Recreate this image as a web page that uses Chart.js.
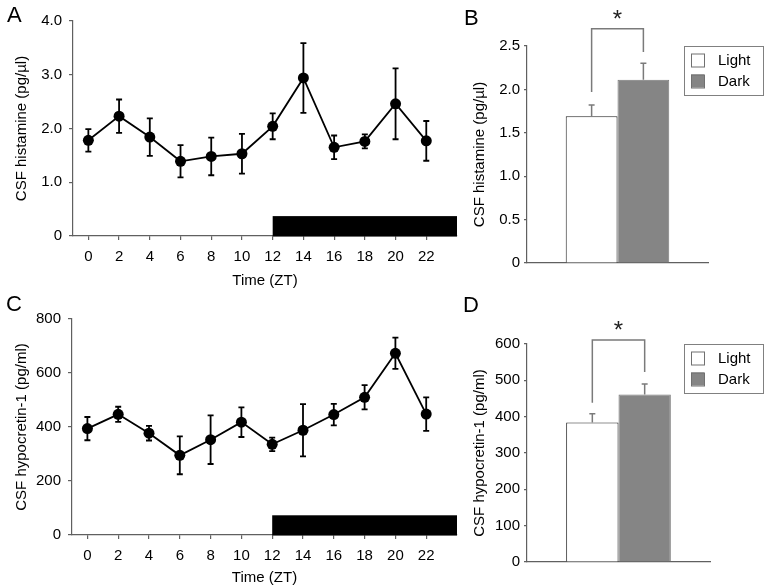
<!DOCTYPE html>
<html><head><meta charset="utf-8">
<script src="https://cdn.jsdelivr.net/npm/chart.js@4"></script>
<style>
html,body{margin:0;padding:0;background:#fff}
body{width:769px;height:587px;position:relative;overflow:hidden;font-family:"Liberation Sans",Arial,sans-serif}
.p{position:absolute}
.lbl{position:absolute;font-size:22px;line-height:22px;color:#000;font-family:"Liberation Sans",Arial,sans-serif}
</style></head><body>
<div class="p" style="left:0;top:0"><canvas id="cA" width="470" height="290"></canvas></div>
<div class="p" style="left:460px;top:0"><canvas id="cB" width="309" height="290"></canvas></div>
<div class="p" style="left:0;top:300px"><canvas id="cC" width="470" height="287"></canvas></div>
<div class="p" style="left:460px;top:300px"><canvas id="cD" width="309" height="287"></canvas></div>
<div class="lbl" style="left:7px;top:4px">A</div>
<div class="lbl" style="left:464px;top:7px">B</div>
<div class="lbl" style="left:6px;top:293px">C</div>
<div class="lbl" style="left:463px;top:294px">D</div>
<script>
// ---- data ----
const ztLabels = [0, 2, 4, 6, 8, 10, 12, 14, 16, 18, 20, 22];
const histMean = [1.78, 2.23, 1.84, 1.39, 1.48, 1.53, 2.04, 2.94, 1.65, 1.76, 2.46, 1.77];
const histErr  = [0.21, 0.31, 0.35, 0.30, 0.35, 0.37, 0.24, 0.65, 0.22, 0.13, 0.66, 0.37];
const hcrtMean = [394, 447, 377, 295, 353, 418, 336, 388, 446, 510, 673, 448];
const hcrtErr  = [43, 28, 27, 70, 90, 55, 25, 97, 40, 45, 58, 62];
const phaseNames = ['Light', 'Dark'];
const histPhaseMean = [1.69, 2.11];
const histPhaseErr  = [0.13, 0.19];
const hcrtPhaseMean = [384, 461];
const hcrtPhaseErr  = [24, 29];
const darkPhase = [12, 24];
const histTicks = [0, 1, 2, 3, 4];
const hcrtTicks = [0, 200, 400, 600, 800];
const histBarTicks = [0, 0.5, 1.0, 1.5, 2.0, 2.5];
const hcrtBarTicks = [0, 100, 200, 300, 400, 500, 600];

const FONT = {family: '"Liberation Sans", Arial, sans-serif', size: 15};
const AXIS = '#606060';
const DARK_FILL = '#858585';

// ---- plugins ----
const lineErrPlugin = {
  id: 'lineErr',
  afterDatasetsDraw(chart) {
    const ctx = chart.ctx, ys = chart.scales.y;
    chart.data.datasets.forEach((ds, di) => {
      const meta = chart.getDatasetMeta(di);
      ctx.save();
      ctx.strokeStyle = '#000'; ctx.lineWidth = 1.8;
      meta.data.forEach((pt, i) => {
        const v = ds.data[i].y, e = ds.err[i];
        const y1 = ys.getPixelForValue(v + e), y2 = ys.getPixelForValue(v - e);
        ctx.beginPath();
        ctx.moveTo(pt.x, y1); ctx.lineTo(pt.x, y2);
        ctx.moveTo(pt.x - 3, y1); ctx.lineTo(pt.x + 3, y1);
        ctx.moveTo(pt.x - 3, y2); ctx.lineTo(pt.x + 3, y2);
        ctx.stroke();
      });
      ctx.restore();
    });
  }
};
const darkBarPlugin = {
  id: 'darkBar',
  beforeDatasetsDraw(chart, args, opts) {
    const ctx = chart.ctx, xs = chart.scales.x, ys = chart.scales.y;
    const x1 = xs.getPixelForValue(darkPhase[0]), x2 = xs.getPixelForValue(darkPhase[1]);
    const yT = ys.getPixelForValue(opts.height), yB = ys.getPixelForValue(0);
    ctx.save(); ctx.fillStyle = '#000';
    ctx.fillRect(x1, yT, x2 - x1, yB - yT + 0.5);
    ctx.restore();
  }
};
const barExtrasPlugin = {
  id: 'barExtras',
  afterDatasetsDraw(chart, args, opts) {
    const ctx = chart.ctx, ys = chart.scales.y, ca = chart.chartArea;
    const xs = [];
    ctx.save();
    ctx.strokeStyle = '#7a7a7a'; ctx.lineWidth = 1.5;
    chart.data.datasets.forEach((ds, di) => {
      const bar = chart.getDatasetMeta(di).data[0];
      xs.push(bar.x);
      const yTop = ys.getPixelForValue(ds.data[0] + ds.err[0]);
      ctx.beginPath();
      ctx.moveTo(bar.x, bar.y); ctx.lineTo(bar.x, yTop);
      ctx.moveTo(bar.x - 3, yTop); ctx.lineTo(bar.x + 3, yTop);
      ctx.stroke();
    });
    // significance bracket
    const b = opts.bracket;
    const yl = ys.getPixelForValue(b[0]), yt = ys.getPixelForValue(b[1]), yr = ys.getPixelForValue(b[2]);
    ctx.beginPath();
    ctx.moveTo(xs[0], yl); ctx.lineTo(xs[0], yt); ctx.lineTo(xs[1], yt); ctx.lineTo(xs[1], yr);
    ctx.stroke();
    ctx.fillStyle = '#222';
    ctx.font = '24px "Liberation Sans", Arial, sans-serif';
    ctx.textAlign = 'center'; ctx.textBaseline = 'alphabetic';
    ctx.fillText('*', (xs[0] + xs[1]) / 2, yt - 2);
    // legend
    const lx = ca.left + 157, ly = ca.top, lw = 79, lh = 49;
    ctx.strokeStyle = '#808080'; ctx.lineWidth = 1;
    ctx.strokeRect(lx + 0.5, ly + 0.5, lw, lh);
    ctx.font = '15px "Liberation Sans", Arial, sans-serif';
    ctx.textAlign = 'left'; ctx.textBaseline = 'middle';
    chart.data.datasets.forEach((ds, di) => {
      const cy = ly + 14 + di * 21;
      ctx.fillStyle = ds.backgroundColor;
      ctx.fillRect(lx + 7, cy - 6.5, 13, 13);
      ctx.strokeStyle = '#707070';
      ctx.strokeRect(lx + 7.5, cy - 6, 13, 13);
      ctx.fillStyle = '#000';
      ctx.fillText(ds.label, lx + 34, cy + 1);
    });
    ctx.restore();
  }
};

function gridOpts(len) {
  return {display: true, drawOnChartArea: false, tickLength: len, color: AXIS, lineWidth: 1.2};
}

function lineChart(id, mean, err, yMax, yTicks, fmt, yTitle, g) {
  return new Chart(document.getElementById(id), {
    type: 'line',
    data: {datasets: [{
      data: ztLabels.map((x, i) => ({x: x, y: mean[i]})), err: err,
      borderColor: '#000', borderWidth: 1.8, backgroundColor: '#000',
      pointRadius: 5.5, pointBackgroundColor: '#000', pointBorderColor: '#000', pointBorderWidth: 0,
      tension: 0, clip: false
    }]},
    options: {
      responsive: false, animation: false, events: [],
      layout: {padding: {left: 0, right: g.right, top: g.top, bottom: 0}},
      plugins: {legend: {display: false}, tooltip: {enabled: false}, darkBar: {height: g.barH}},
      scales: {
        x: {type: 'linear', min: -1, max: 24,
          afterBuildTicks: s => { s.ticks = ztLabels.map(v => ({value: v})); },
          afterFit: s => { s.height = g.xh; },
          ticks: {color: '#000', font: FONT, padding: 8, maxRotation: 0, autoSkip: false},
          grid: gridOpts(4), border: {color: AXIS, width: 1.2},
          title: {display: true, text: 'Time (ZT)', color: '#000', font: FONT, padding: {top: 0, bottom: 0}}
        },
        y: {min: 0, max: yMax,
          afterBuildTicks: s => { s.ticks = yTicks.map(v => ({value: v})); },
          afterFit: s => { s.width = g.yw; },
          ticks: {color: '#000', font: FONT, padding: 7, callback: fmt},
          grid: gridOpts(4), border: {color: AXIS, width: 1.2},
          title: {display: true, text: yTitle, color: '#000', font: FONT, padding: {top: g.tp, bottom: 0}}
        }
      }
    },
    plugins: [darkBarPlugin, lineErrPlugin]
  });
}

function barChart(id, mean, err, yMax, yTicks, fmt, yTitle, bracket, g) {
  return new Chart(document.getElementById(id), {
    type: 'bar',
    data: {labels: [''], datasets: [
      {label: phaseNames[0], data: [mean[0]], err: [err[0]], backgroundColor: '#ffffff', borderColor: '#222', borderWidth: 1},
      {label: phaseNames[1], data: [mean[1]], err: [err[1]], backgroundColor: DARK_FILL, borderColor: '#7a7a7a', borderWidth: 1}
    ]},
    options: {
      responsive: false, animation: false, events: [],
      layout: {padding: {left: 0, right: g.right, top: g.top, bottom: 0}},
      datasets: {bar: {categoryPercentage: 0.572, barPercentage: 1}},
      plugins: {legend: {display: false}, tooltip: {enabled: false}, barExtras: {bracket: bracket}},
      scales: {
        x: {afterFit: s => { s.height = g.xh; }, ticks: {display: false},
          grid: {display: false}, border: {color: AXIS, width: 1.2}},
        y: {min: 0, max: yMax,
          afterBuildTicks: s => { s.ticks = yTicks.map(v => ({value: v})); },
          afterFit: s => { s.width = g.yw; },
          ticks: {color: '#000', font: FONT, padding: 4, callback: fmt},
          grid: gridOpts(3), border: {color: AXIS, width: 1.2},
          title: {display: true, text: yTitle, color: '#000', font: FONT, padding: {top: g.tp, bottom: 0}}
        }
      }
    },
    plugins: [barExtrasPlugin]
  });
}

const fmt1 = v => v === 0 ? '0' : v.toFixed(1);
const fmt0 = v => String(v);

lineChart('cA', histMean, histErr, 4, histTicks, fmt1, 'CSF histamine (pg/µl)',
  {right: 13, top: 21, xh: 54, yw: 73, tp: 13, barH: 0.37});
lineChart('cC', hcrtMean, hcrtErr, 800, hcrtTicks, fmt0, 'CSF hypocretin-1 (pg/ml)',
  {right: 13, top: 19, xh: 52, yw: 72, tp: 13, barH: 73});
barChart('cB', histPhaseMean, histPhaseErr, 2.5, histBarTicks, fmt1, 'CSF histamine (pg/µl)',
  [1.97, 2.70, 2.43], {right: 61, top: 46, xh: 27, yw: 67, tp: 11});
barChart('cD', hcrtPhaseMean, hcrtPhaseErr, 600, hcrtBarTicks, fmt0, 'CSF hypocretin-1 (pg/ml)',
  [438, 611, 523], {right: 59, top: 44, xh: 25, yw: 67, tp: 11});
</script>
</body></html>
